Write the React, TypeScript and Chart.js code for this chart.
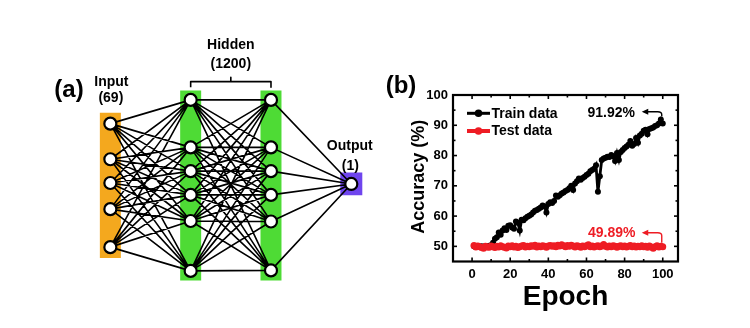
import React, { useEffect, useRef } from "react";
import { Chart, registerables } from "chart.js";

Chart.register(...registerables);

const FONT = '"Liberation Sans", Arial, Helvetica, sans-serif';

// ---------- (a) network diagram data ----------
const layerNames = ["Input", "Hidden", "Hidden", "Output"];
const layerX = [0, 1, 2, 3];
const inputNodes = [1.0, 2.5, 3.5, 4.6, 6.2];
const hidden1Nodes = [0.0, 2.0, 3.0, 4.0, 5.1, 7.2];
const hidden2Nodes = [0.0, 2.0, 3.0, 4.0, 5.12, 7.18];
const outputNodes = [3.54];
const layerSpanTop = [0.54, -0.39, -0.39, 3.06];
const layerSpanBottom = [6.66, 7.61, 7.61, 4.02];
const layerColors = ["#F4A81E", "#4EDB35", "#4EDB35", "#6F45EE"];
const layerBarWidths = [21, 21, 21, 22];
const bracketX = [1, 1, 1.5, 1.5, 1.5, 2, 2];
const bracketY = [-0.53, -0.77, -0.77, -0.95, -0.77, -0.77, -0.53];

// ---------- (b) accuracy chart data ----------
const epochs = Array.from({ length: 100 }, (_, i) => i + 1);
const trainAcc = [
  50.0, 49.8, 50.1, 49.9, 50.0, 49.7, 50.1, 49.9, 50.2, 50.4,
  51.2, 52.5, 53.0, 54.6, 53.8, 55.2, 56.0, 55.4, 56.8, 57.0,
  56.2, 55.8, 58.2, 57.8, 55.2, 58.8, 58.6, 59.3, 59.8, 60.1,
  60.5, 61.2, 61.8, 62.0, 62.4, 62.8, 63.5, 63.2, 61.2, 64.0,
  64.6, 64.3, 65.0, 66.8, 66.4, 66.9, 67.5, 67.8, 68.3, 68.6,
  69.2, 70.0, 68.6, 70.8, 71.5, 72.4, 72.0, 72.6, 73.0, 73.6,
  74.0, 74.8, 75.2, 75.6, 76.8, 68.0, 73.2, 78.5, 79.0, 79.3,
  79.6, 79.5, 80.2, 79.8, 78.2, 80.8, 78.5, 81.2, 81.8, 82.5,
  83.0, 83.6, 84.8, 83.2, 83.8, 85.8, 84.2, 86.6, 87.2, 88.2,
  88.5, 87.0, 88.8, 89.0, 89.3, 89.8, 90.0, 90.6, 91.92, 90.6,
];
const testAcc = [
  50.3, 49.8, 50.1, 49.9, 49.6, 49.4, 50.0, 49.8, 49.7, 50.1,
  49.9, 49.6, 50.0, 49.8, 50.2, 49.9, 49.7, 49.5, 50.1, 49.9,
  50.2, 49.8, 50.0, 49.6, 49.9, 50.1, 50.3, 49.8, 50.0, 49.9,
  50.2, 50.0, 50.4, 49.8, 50.1, 49.9, 50.2, 50.0, 49.7, 50.1,
  50.3, 50.0, 50.2, 49.9, 50.4, 50.1, 50.5, 50.2, 49.9, 50.3,
  50.0, 50.4, 50.1, 49.8, 50.2, 50.0, 49.7, 50.1, 49.9, 50.2,
  50.5, 49.9, 50.1, 49.8, 50.0, 50.2, 49.9, 50.1, 50.6, 50.0,
  49.8, 50.1, 49.9, 50.2, 50.0, 49.7, 50.0, 50.2, 49.9, 50.1,
  49.8, 50.0, 50.3, 49.9, 50.1, 49.8, 50.0, 49.9, 50.2, 49.9,
  50.0, 49.7, 50.1, 49.8, 49.4, 49.9, 50.2, 49.8, 50.0, 49.89,
];
const xTicks = [0, 20, 40, 60, 80, 100];
const xMinorTicks = [10, 30, 50, 70, 90];
const yTicks = [50, 60, 70, 80, 90, 100];
const yMinorTicks = [55, 65, 75, 85, 95];
const trainPeak = 91.92;
const testFinalEpoch = 100;
const testFinal = 49.89;

const RED = "rgb(238,28,36)";

function NetworkChart() {
  const ref = useRef<HTMLCanvasElement>(null);
  useEffect(() => {
    const layers = [inputNodes, hidden1Nodes, hidden2Nodes, outputNodes];
    const links: any[] = [];
    for (let i = 0; i < layers.length - 1; i++) {
      for (const a of layers[i]) {
        for (const b of layers[i + 1]) {
          links.push({ x: layerX[i], y: a }, { x: layerX[i + 1], y: b }, { x: (layerX[i] + layerX[i + 1]) / 2, y: null });
        }
      }
    }
    const nodes = layers.flatMap((ys, i) => ys.map((y) => ({ x: layerX[i], y })));
    const bars = layerX.map((lx, i) => ({
      label: layerNames[i],
      data: [{ x: lx, y: layerSpanTop[i] }, { x: lx, y: layerSpanBottom[i] }],
      showLine: true,
      borderColor: layerColors[i],
      backgroundColor: layerColors[i],
      borderWidth: layerBarWidths[i],
      borderCapStyle: "butt",
      pointRadius: 0,
      order: 3,
    }));

    const textPlugin = {
      id: "netText",
      afterDraw(chart: any) {
        const { ctx } = chart;
        const xs = chart.scales.x;
        ctx.save();
        ctx.fillStyle = "#000";
        ctx.textAlign = "center";
        ctx.textBaseline = "middle";
        ctx.font = `bold 24px ${FONT}`;
        ctx.fillText("(a)", 69, 90);
        ctx.font = `bold 14px ${FONT}`;
        const inX = xs.getPixelForValue(layerX[0]);
        const hX = (xs.getPixelForValue(layerX[1]) + xs.getPixelForValue(layerX[2])) / 2;
        const oX = xs.getPixelForValue(layerX[3]);
        ctx.fillText("Input", inX + 1, 82.5);
        ctx.fillText("(69)", inX + 0.5, 98.5);
        ctx.fillText("Hidden", hX, 45.5);
        ctx.fillText("(1200)", hX, 64);
        ctx.fillText("Output", oX - 1.5, 146.5);
        ctx.fillText("(1)", oX - 1, 166);
        ctx.restore();
      },
    };

    const chart = new Chart(ref.current!, {
      type: "scatter",
      data: {
        datasets: [
          {
            label: "nodes",
            data: nodes,
            pointRadius: 6,
            pointBorderWidth: 2.2,
            pointBackgroundColor: "#fff",
            pointBorderColor: "#000",
            showLine: false,
            order: 0,
          } as any,
          {
            label: "links",
            data: links,
            showLine: true,
            spanGaps: false,
            borderColor: "#000",
            borderWidth: 1.6,
            pointRadius: 0,
            order: 1,
          },
          {
            label: "bracket",
            data: bracketX.map((x, i) => ({ x, y: bracketY[i] })),
            showLine: true,
            borderColor: "#000",
            borderWidth: 1.6,
            borderJoinStyle: "round",
            pointRadius: 0,
            order: 2,
          },
          ...bars,
        ] as any,
      },
      options: {
        responsive: false,
        animation: false,
        events: [],
        layout: { padding: 0 },
        plugins: { legend: { display: false }, tooltip: { enabled: false } },
        scales: {
          x: { type: "linear", display: false, min: -1.2718, max: 3.305 },
          y: { type: "linear", display: false, min: -3.86, max: 9.26, reverse: true },
        },
      },
      plugins: [textPlugin],
    });
    return () => chart.destroy();
  }, []);
  return (
    <canvas
      ref={ref}
      width={384}
      height={328}
      style={{ position: "absolute", left: 0, top: 0, width: 384, height: 328, display: "block" }}
    />
  );
}

function AccuracyChart() {
  const ref = useRef<HTMLCanvasElement>(null);
  useEffect(() => {
    const decoPlugin = {
      id: "deco",
      afterDraw(chart: any) {
        const { ctx, chartArea: a } = chart;
        const x = chart.scales.x;
        const y = chart.scales.y;
        ctx.save();
        // frame
        ctx.strokeStyle = "#000";
        ctx.lineWidth = 2.2;
        ctx.strokeRect(a.left, a.top, a.right - a.left, a.bottom - a.top);
        // inward ticks
        const seg = (x1: number, y1: number, x2: number, y2: number) => {
          ctx.beginPath();
          ctx.moveTo(x1, y1);
          ctx.lineTo(x2, y2);
          ctx.stroke();
        };
        ctx.lineWidth = 1.6;
        for (const v of xTicks) {
          const p = x.getPixelForValue(v);
          seg(p, a.bottom, p, a.bottom - 4);
          seg(p, a.top, p, a.top + 4);
        }
        for (const v of xMinorTicks) {
          const p = x.getPixelForValue(v);
          seg(p, a.bottom, p, a.bottom - 2.5);
          seg(p, a.top, p, a.top + 2.5);
        }
        for (const v of yTicks) {
          const p = y.getPixelForValue(v);
          seg(a.left, p, a.left + 4, p);
          seg(a.right, p, a.right - 4, p);
        }
        for (const v of yMinorTicks) {
          const p = y.getPixelForValue(v);
          seg(a.left, p, a.left + 2.5, p);
          seg(a.right, p, a.right - 2.5, p);
        }
        // legend
        const ds = chart.data.datasets;
        const legendRows = [ds[0], ds[1]];
        ctx.textAlign = "left";
        ctx.textBaseline = "middle";
        ctx.font = `bold 14px ${FONT}`;
        legendRows.forEach((d: any, i: number) => {
          const ly = a.top + 18.3 + i * 17.7;
          const lx0 = a.left + 14;
          const lx1 = a.left + 37;
          ctx.strokeStyle = d.borderColor;
          ctx.fillStyle = d.borderColor;
          ctx.lineWidth = i === 0 ? 3 : 4;
          seg(lx0, ly, lx1, ly);
          ctx.beginPath();
          ctx.arc((lx0 + lx1) / 2, ly, 3.8, 0, Math.PI * 2);
          ctx.fill();
          ctx.fillStyle = "#000";
          ctx.fillText(d.label, lx1 + 1.5, ly + 0.5);
        });
        // annotations
        const vx = x.getPixelForValue(testFinalEpoch) - 1;
        const drawArrow = (color: string, y0: number, yH: number, tipX: number) => {
          ctx.strokeStyle = color;
          ctx.fillStyle = color;
          ctx.lineWidth = 1.4;
          ctx.beginPath();
          ctx.moveTo(vx, y0);
          ctx.lineTo(vx, yH + 3);
          ctx.quadraticCurveTo(vx, yH, vx - 4, yH);
          ctx.lineTo(tipX + 5, yH);
          ctx.stroke();
          ctx.beginPath();
          ctx.moveTo(tipX, yH);
          ctx.lineTo(tipX + 6.5, yH - 3);
          ctx.lineTo(tipX + 6.5, yH + 3);
          ctx.closePath();
          ctx.fill();
        };
        const pkY = y.getPixelForValue(trainPeak);
        drawArrow("#000", pkY - 3, a.top + 16.7, vx - 20);
        const tfY = y.getPixelForValue(testFinal);
        drawArrow(RED, tfY - 4, tfY - 14, vx - 20);
        ctx.textAlign = "center";
        ctx.font = `bold 14px ${FONT}`;
        ctx.fillStyle = "#000";
        ctx.fillText(`${trainPeak.toFixed(2)}%`, vx - 50.5, a.top + 18.3);
        ctx.fillStyle = RED;
        ctx.fillText(`${testFinal.toFixed(2)}%`, vx - 50, tfY - 13.4);
        // titles
        ctx.fillStyle = "#000";
        ctx.font = `bold 28px ${FONT}`;
        ctx.fillText("Epoch", (a.left + a.right) / 2, 297);
        ctx.font = `bold 24px ${FONT}`;
        ctx.fillText("(b)", 17, 86);
        ctx.save();
        ctx.translate(35, (a.top + a.bottom) / 2 - 1.5);
        ctx.rotate(-Math.PI / 2);
        ctx.font = `bold 18px ${FONT}`;
        ctx.fillText("Accuracy (%)", 0, 0);
        ctx.restore();
        ctx.restore();
      },
    };

    const chart = new Chart(ref.current!, {
      type: "line",
      data: {
        datasets: [
          {
            label: "Train data",
            data: epochs.map((e, i) => ({ x: e, y: trainAcc[i] })),
            borderColor: "#000",
            backgroundColor: "#000",
            borderWidth: 2.8,
            pointRadius: 3,
            pointBorderWidth: 0,
            pointBackgroundColor: "#000",
            tension: 0,
            order: 1,
          },
          {
            label: "Test data",
            data: epochs.map((e, i) => ({ x: e, y: testAcc[i] })),
            borderColor: RED,
            backgroundColor: RED,
            borderWidth: 3.5,
            pointRadius: 3.5,
            pointBorderWidth: 0,
            pointBackgroundColor: RED,
            tension: 0,
            order: 0,
          },
        ],
      },
      options: {
        responsive: false,
        animation: false,
        events: [],
        layout: { padding: { top: 95, right: 72, left: 0, bottom: 0 } },
        plugins: { legend: { display: false }, tooltip: { enabled: false } },
        scales: {
          x: {
            type: "linear",
            min: -10,
            max: 108,
            afterBuildTicks: (s: any) => {
              s.ticks = xTicks.map((v) => ({ value: v }));
            },
            afterFit: (s: any) => {
              s.height = 66.5;
            },
            grid: { display: false, drawTicks: false },
            border: { display: false },
            ticks: {
              color: "#000",
              font: { family: FONT, size: 13, weight: "bold" },
              padding: 5,
              maxRotation: 0,
              autoSkip: false,
            },
          },
          y: {
            type: "linear",
            min: 45,
            max: 100,
            afterBuildTicks: (s: any) => {
              s.ticks = yTicks.map((v) => ({ value: v }));
            },
            afterFit: (s: any) => {
              s.width = 69;
            },
            grid: { display: false, drawTicks: false },
            border: { display: false },
            ticks: {
              color: "#000",
              font: { family: FONT, size: 13, weight: "bold" },
              padding: 5,
              autoSkip: false,
            },
          },
        },
      } as any,
      plugins: [decoPlugin],
    });
    return () => chart.destroy();
  }, []);
  return (
    <canvas
      ref={ref}
      width={366}
      height={328}
      style={{ position: "absolute", left: 384, top: 0, width: 366, height: 328, display: "block" }}
    />
  );
}

export default function App() {
  return (
    <div style={{ position: "absolute", left: 0, top: 0, width: 750, height: 328, background: "#fff", overflow: "hidden" }}>
      <NetworkChart />
      <AccuracyChart />
    </div>
  );
}
